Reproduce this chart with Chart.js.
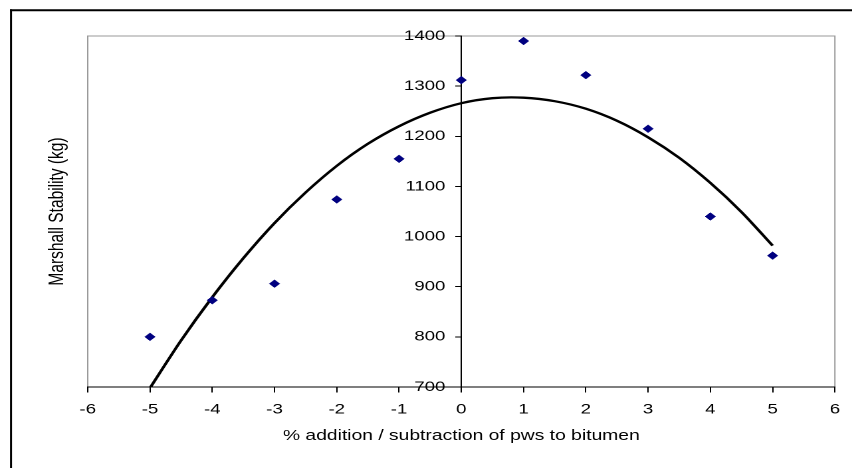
<!DOCTYPE html>
<html lang="en">
  <head>
    <meta charset="UTF-8" />
    <meta name="viewport" content="width=device-width, initial-scale=1.0" />
    <title>Marshall Stability</title>
    <script src="https://cdn.jsdelivr.net/npm/chart.js"></script>
    <style>
      html, body { margin: 0; padding: 0; background: #fff; overflow: hidden; }
      /* the original picture is stretched sideways, so the canvas is too */
      #wrap { width: 641px; height: 468px; transform: scaleX(1.3292); transform-origin: 0 0; }
    </style>
  </head>
  <body>
    <div id="wrap"><canvas id="myChart" width="641" height="468"></canvas></div>
    <script>
      // measured points
      const pwsPercent = [-5, -4, -3, -2, -1, 0, 1, 2, 3, 4, 5];
      const stability = [800, 873, 906, 1074, 1155, 1312, 1390, 1322, 1215, 1040, 962];

      // trend line, every 0.5 %
      const trendPercent = [-5, -4.5, -4, -3.5, -3, -2.5, -2, -1.5, -1, -0.5, 0, 0.5, 1, 1.5, 2, 2.5, 3, 3.5, 4, 4.5, 5];
      const trendStability = [698, 793, 879, 957, 1027, 1088, 1141, 1185, 1220, 1247, 1266, 1276, 1277, 1270, 1255, 1231, 1198, 1157, 1107, 1049, 982];

      // axis ranges / ticks
      const xRange = [-6, 6];
      const xStep = 1;
      const yRange = [700, 1400];
      const yStep = 100;

      const xTitle = "% addition / subtraction of pws to bitumen";
      const yTitle = "Marshall Stability (kg)";
      const fontFamily = "'Liberation Sans', Arial, sans-serif";

      const framePlugin = {
        id: "frame",
        beforeDraw(chart) {
          const { ctx, chartArea: a } = chart;
          ctx.save();
          ctx.fillStyle = "#fff";
          ctx.fillRect(0, 0, chart.width, chart.height);
          // outer box (runs off the picture right and bottom)
          ctx.strokeStyle = "#000";
          ctx.lineWidth = 1.5;
          ctx.beginPath();
          ctx.moveTo(8.3, chart.height);
          ctx.lineTo(8.3, 9.3);
          ctx.stroke();
          ctx.lineWidth = 2;
          ctx.beginPath();
          ctx.moveTo(7.5, 10.3);
          ctx.lineTo(chart.width, 10.3);
          ctx.stroke();
          // grey plot frame
          ctx.strokeStyle = "#9a9a9a";
          ctx.lineWidth = 1;
          ctx.strokeRect(a.left, a.top, a.right - a.left, a.bottom - a.top);
          ctx.restore();
        },
        afterDraw(chart) {
          const { ctx, chartArea: a } = chart;
          ctx.save();
          ctx.fillStyle = "#000";
          ctx.textAlign = "center";
          ctx.textBaseline = "middle";
          ctx.font = "14.5px " + fontFamily;
          ctx.fillText(xTitle, chart.scales.x.getPixelForValue(0), 436);
          ctx.translate(43, (a.top + a.bottom) / 2);
          ctx.rotate(-Math.PI / 2);
          ctx.font = "15.5px " + fontFamily;
          ctx.fillText(yTitle, 0, 0);
          ctx.restore();
        },
      };

      function drawChart(tag) {
        const ctx = document.getElementById(tag);
        const tickFont = { family: fontFamily, size: 14 };

        new Chart(ctx, {
          type: "scatter",
          data: {
            datasets: [
              {
                label: "Marshall Stability",
                data: pwsPercent.map((x, i) => ({ x: x, y: stability[i] })),
                pointStyle: "rectRot",
                pointRadius: 3.9,
                pointBackgroundColor: "#000080",
                pointBorderColor: "#000080",
                pointBorderWidth: 0.5,
                order: 0,
              },
              {
                label: "Trend",
                data: trendPercent.map((x, i) => ({ x: x, y: trendStability[i] })),
                showLine: true,
                borderColor: "#000",
                borderWidth: 2.3,
                tension: 0.3,
                pointRadius: 0,
                order: 1,
              },
            ],
          },
          options: {
            responsive: false,
            animation: false,
            devicePixelRatio: 2,
            layout: { padding: { left: 66, right: 11, top: 36, bottom: 81 } },
            plugins: { legend: { display: false }, tooltip: { enabled: false } },
            scales: {
              x: {
                type: "linear",
                position: { y: yRange[0] },
                min: xRange[0],
                max: xRange[1],
                ticks: {
                  stepSize: xStep, color: "#000", font: tickFont, padding: 9, maxRotation: 0,
                  callback: (v) => String(v),
                },
                grid: { drawOnChartArea: false, drawTicks: true, tickLength: 5, color: "#000" },
                border: { color: "#000", width: 1 },
              },
              y: {
                type: "linear",
                position: "center",
                min: yRange[0],
                max: yRange[1],
                ticks: {
                  stepSize: yStep, color: "#000", font: tickFont, padding: 8,
                  callback: (v) => String(v),
                },
                grid: { drawOnChartArea: false, drawTicks: true, tickLength: 4, color: "#000" },
                border: { color: "#000", width: 1 },
              },
            },
          },
          plugins: [framePlugin],
        });
      }

      drawChart("myChart");
    </script>
  </body>
</html>
